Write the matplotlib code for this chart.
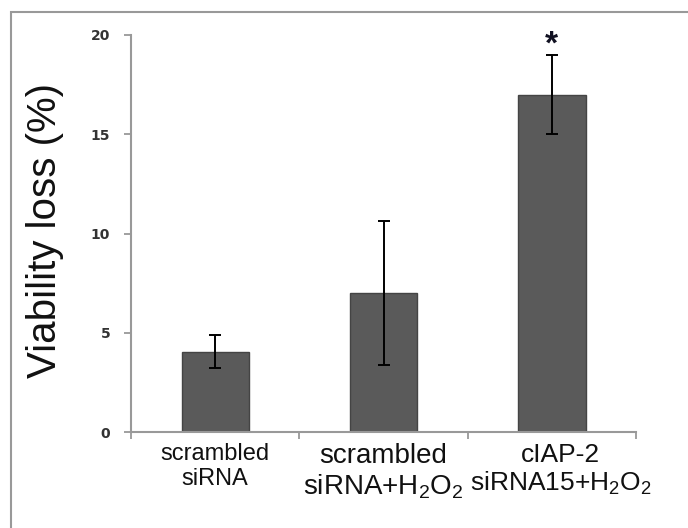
import matplotlib
matplotlib.use("Agg")
import matplotlib.pyplot as plt
from matplotlib.patches import Rectangle
from matplotlib.transforms import ScaledTranslation

plt.rcParams['font.family'] = ['Liberation Sans', 'DejaVu Sans']
plt.rcParams['mathtext.fontset'] = 'custom'
plt.rcParams['mathtext.rm'] = 'Liberation Sans'
plt.rcParams['mathtext.it'] = 'Liberation Sans'

categories = ["scrambled\nsiRNA",
              "scrambled\nsiRNA+H$_2$O$_2$",
              "cIAP-2\nsiRNA15+H$_2$O$_2$"]
values = [4.05, 7.0, 17.0]
errors = [0.85, 3.63, 1.98]
yticks = [0, 5, 10, 15, 20]
ylabel = "Viability loss (%)"
significance = ["", "", "*"]

fig = plt.figure(figsize=(6.88, 5.28), dpi=100)
ax = fig.add_axes([131/688, 1-432/528, (636-131)/688, (432-35)/528])

x = list(range(len(categories)))
ax.bar(x, values, width=0.4, color="#5a5a5a", edgecolor="#444444", linewidth=1.0,
       yerr=errors, capsize=4.5, error_kw=dict(ecolor="black", elinewidth=1.4, capthick=1.4),
       zorder=2)

for xi, v, e, s in zip(x, values, errors, significance):
    if s:
        ax.text(xi, v + e - 0.25, s, ha="center", va="bottom", fontsize=24,
                fontweight="bold", color="#111122")

ax.set_xlim(-0.5, len(categories) - 0.5)
ax.set_ylim(0, 20)
ax.set_yticks(yticks)
ax.set_yticklabels([str(t) for t in yticks], family="DejaVu Sans", fontsize=10,
                   fontweight="bold", color="#333333")
ax.set_xticks(x)
ax.set_xticks([i - 0.5 for i in range(len(categories) + 1)], minor=True)
ax.tick_params(axis="x", which="major", length=0, pad=8)
ax.tick_params(axis="x", which="minor", length=5, width=1.3, color="#999999", direction="out")
ax.tick_params(axis="y", length=5, width=1.3, color="#999999", direction="out", pad=10)
ax.set_xticklabels(categories, fontsize=20, color="#111111", linespacing=1.15)
labels = ax.get_xticklabels()
labels[0].set_fontsize(17)
labels[2].set_fontsize(19)
labels[2].set_transform(labels[2].get_transform()
                        + ScaledTranslation(9/100, 0, fig.dpi_scale_trans))

for side in ["top", "right"]:
    ax.spines[side].set_visible(False)
for side in ["left", "bottom"]:
    ax.spines[side].set_color("#999999")
    ax.spines[side].set_linewidth(1.5)

fig.text(45/688, 1-230/528, ylabel, rotation=90, ha="center", va="center",
         fontsize=29, color="#111111")

fig.patches.append(Rectangle((11/688, -0.1), 1.2, 1 - 12/528 + 0.1,
                             transform=fig.transFigure, fill=False,
                             edgecolor="#999999", linewidth=1.5))

fig.savefig("out.png", dpi=100)
